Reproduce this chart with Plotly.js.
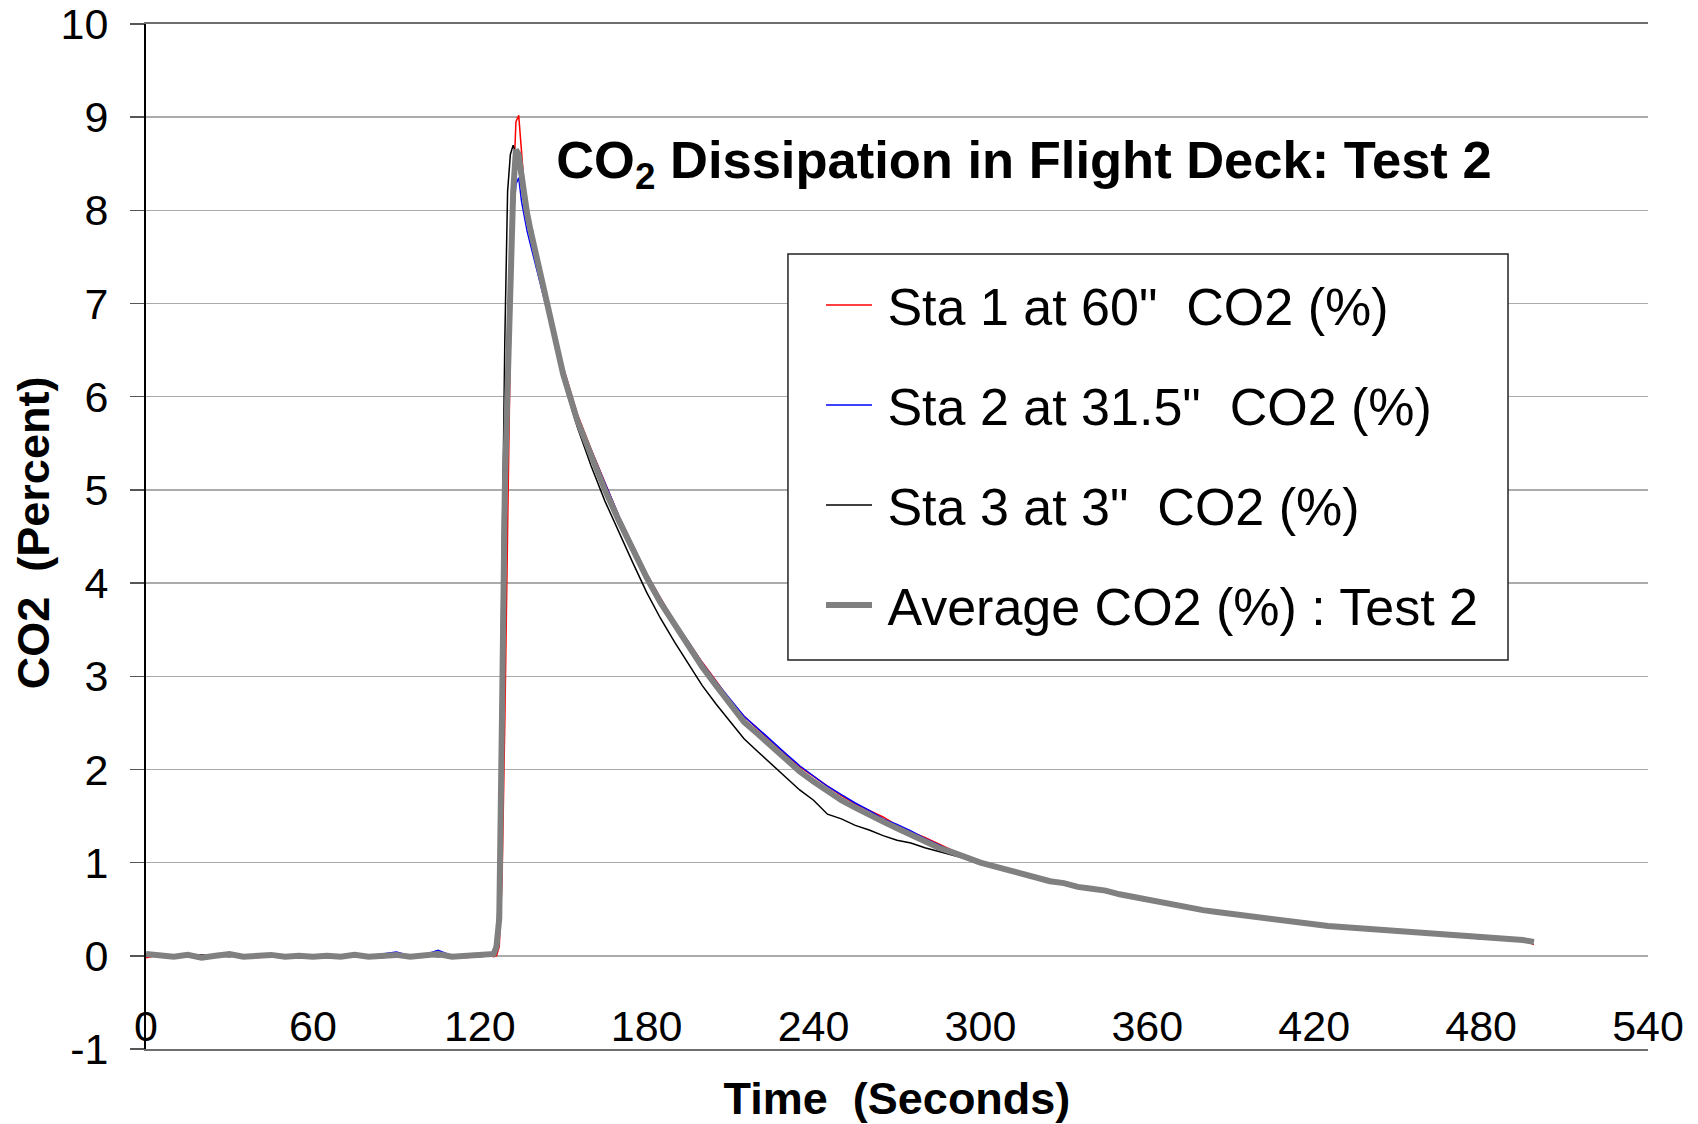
<!DOCTYPE html>
<html>
<head>
<meta charset="utf-8">
<script src="https://cdn.plot.ly/plotly-3.0.1.min.js"></script>
<style>html,body{margin:0;padding:0;background:#fff;}#chart{width:1698px;height:1124px;}</style>
</head>
<body>
<div id="chart"></div>
<script>
var timeSec = [0,5,10,15,20,25,30,35,40,45,50,55,60,65,70,75,80,85,90,95,100,105,110,115,120,
  123,125,126,127,128,129,130,131,132,133,134,135,136,137,138,140,142,144,146,148,150,
  155,160,165,170,175,180,185,190,195,200,205,210,215,220,225,230,235,240,245,250,255,260,265,270,275,280,285,290,295,300,
  305,310,315,320,325,330,335,340,345,350,355,360,365,370,375,380,385,390,395,400,405,410,415,420,425,430,435,440,445,450,455,460,465,470,475,480,485,490,495,499];

var sta1 = [-0.02,0.01,0.00,-0.01,0.01,-0.01,0.00,0.01,-0.02,0.00,0.01,-0.01,0.00,0.01,-0.01,0.00,0.01,-0.02,0.00,0.01,-0.01,0.00,0.01,-0.02,0.00,
  0.01,-0.01,0.0,0.1,0.8,2.5,4.6,6.6,8.2,8.95,9.02,8.6,8.25,8.05,7.9,7.62,7.36,7.08,6.82,6.55,6.32,
  5.82,5.44,5.07,4.72,4.41,4.10,3.84,3.59,3.37,3.15,2.95,2.74,2.57,2.43,2.29,2.16,2.03,1.92,1.82,1.72,1.63,1.56,1.49,1.40,1.33,1.27,1.20,1.13,1.06,1.01,
  0.95,0.93,0.87,0.86,0.80,0.78,0.75,0.71,0.69,0.67,0.62,0.60,0.57,0.55,0.53,0.48,0.47,0.46,0.42,0.41,0.39,0.38,0.37,0.33,0.33,0.30,0.31,0.27,0.28,0.25,0.25,0.23,0.24,0.21,0.21,0.19,0.19,0.17,0.17,0.12];

var sta2 = [0.01,-0.01,0.00,0.01,0.00,-0.01,0.01,0.00,-0.01,0.00,0.01,0.00,0.00,-0.01,0.01,0.00,0.00,0.02,0.04,0.00,0.01,0.06,0.00,-0.01,0.02,
  0.03,0.02,0.05,0.4,2.6,5.0,5.9,7.0,7.9,8.28,8.35,8.1,7.92,7.78,7.66,7.42,7.16,6.95,6.72,6.48,6.25,
  5.78,5.42,5.06,4.72,4.40,4.10,3.83,3.59,3.37,3.14,2.94,2.76,2.57,2.44,2.30,2.17,2.04,1.93,1.82,1.73,1.64,1.56,1.47,1.41,1.34,1.26,1.19,1.12,1.06,1.00,
  0.97,0.91,0.89,0.84,0.82,0.77,0.74,0.73,0.68,0.66,0.64,0.59,0.58,0.54,0.52,0.50,0.46,0.45,0.43,0.40,0.40,0.37,0.35,0.34,0.31,0.31,0.28,0.29,0.26,0.26,0.24,0.23,0.22,0.22,0.20,0.18,0.19,0.18,0.16,0.16];

var sta3 = [0.00,0.01,-0.01,0.00,0.01,0.00,-0.01,0.01,0.00,-0.01,0.00,0.01,-0.01,0.00,0.00,0.01,-0.01,0.00,-0.01,0.01,0.00,-0.01,0.00,0.01,-0.01,
  0.00,0.03,0.2,0.8,4.2,6.6,8.2,8.6,8.7,8.6,8.45,8.28,8.1,7.95,7.8,7.52,7.25,6.96,6.7,6.43,6.18,
  5.68,5.26,4.88,4.54,4.22,3.90,3.62,3.37,3.14,2.90,2.70,2.51,2.33,2.19,2.05,1.91,1.78,1.67,1.52,1.47,1.40,1.35,1.29,1.24,1.21,1.16,1.12,1.08,1.04,1.00,
  0.96,0.92,0.89,0.85,0.81,0.79,0.74,0.72,0.70,0.66,0.63,0.61,0.58,0.56,0.52,0.50,0.47,0.45,0.44,0.41,0.40,0.38,0.36,0.34,0.33,0.31,0.30,0.29,0.27,0.26,0.25,0.24,0.23,0.22,0.21,0.21,0.19,0.18,0.17,0.17];

var average = [0.02,0.00,-0.01,0.01,-0.02,0.00,0.02,-0.01,0.00,0.01,-0.01,0.00,-0.01,0.00,-0.01,0.01,-0.01,0.00,0.01,-0.01,0.01,0.02,-0.01,0.00,0.01,
  0.00,0.02,0.1,0.4,2.6,5.0,6.1,7.4,8.2,8.65,8.6,8.38,8.15,7.97,7.82,7.55,7.28,7.0,6.74,6.48,6.24,
  5.75,5.36,5.0,4.67,4.36,4.06,3.79,3.55,3.32,3.1,2.9,2.7,2.51,2.38,2.24,2.11,1.98,1.87,1.77,1.67,1.59,1.51,1.44,1.37,1.30,1.23,1.16,1.11,1.05,1.0,
  0.96,0.92,0.88,0.85,0.80,0.78,0.74,0.72,0.70,0.66,0.63,0.60,0.58,0.55,0.52,0.49,0.47,0.45,0.43,0.41,0.40,0.38,0.36,0.34,0.32,0.31,0.30,0.28,0.27,0.26,0.25,0.24,0.23,0.22,0.21,0.20,0.19,0.18,0.17,0.15];

var seriesNames = ['Sta 1 at 60"\u00A0\u00A0CO2 (%)', 'Sta 2 at 31.5"\u00A0\u00A0CO2 (%)', 'Sta 3 at 3"\u00A0\u00A0CO2 (%)', 'Average CO2 (%) : Test 2'];
var xTickVals = [0,60,120,180,240,300,360,420,480,540];
var yTickVals = [-1,0,1,2,3,4,5,6,7,8,9,10];

var FONT = 'Liberation Sans, Arial, Helvetica, sans-serif';
var PAD = '\u2009';

var traces = [
  {x: timeSec, y: sta1, name: PAD + seriesNames[0], mode: 'lines', line: {color: '#ff0000', width: 1.5}, legendgroup: 'a'},
  {x: timeSec, y: sta2, name: PAD + seriesNames[1], mode: 'lines', line: {color: '#0000ff', width: 1.5}, legendgroup: 'b'},
  {x: timeSec, y: sta3, name: PAD + seriesNames[2], mode: 'lines', line: {color: '#000000', width: 1.5}, legendgroup: 'c'},
  {x: timeSec, y: average, name: PAD + seriesNames[3], mode: 'lines', line: {color: '#808080', width: 6}, legendgroup: 'd'}
];

var layout = {
  width: 1698, height: 1124,
  margin: {l: 146, r: 50, t: 24, b: 75},
  paper_bgcolor: '#ffffff', plot_bgcolor: '#ffffff',
  font: {family: FONT, color: '#000000'},
  showlegend: true,
  title: {
    text: '<b>CO<sub>2</sub> Dissipation in Flight Deck: Test 2</b>',
    font: {family: FONT, size: 52.5, color: '#000000'},
    xref: 'container', yref: 'container', x: 0.6030, y: 0.8577, xanchor: 'center', yanchor: 'middle'
  },
  xaxis: {
    range: [0, 540], tickvals: xTickVals, ticktext: xTickVals.map(String),
    showgrid: false, zeroline: false, ticks: '',
    ticklabelposition: 'inside', ticklabeloverflow: 'allow', ticklabelstandoff: 5,
    tickfont: {family: FONT, size: 43, color: '#000000'},
    showline: true, linecolor: '#6e6e6e', linewidth: 2, mirror: true,
    title: {text: '<b>Time\u00A0\u00A0(Seconds)</b>', font: {family: FONT, size: 45, color: '#000000'}, standoff: 36},
    automargin: false
  },
  xaxis2: {
    overlaying: 'x', anchor: 'free', position: 1/11, side: 'bottom',
    range: [0, 540], tickvals: xTickVals, showticklabels: false,
    ticks: 'outside', ticklen: 16, tickwidth: 1.5, tickcolor: '#000000',
    showline: true, linecolor: '#000000', linewidth: 2, showgrid: false, zeroline: false
  },
  yaxis: {
    range: [-1, 10], tickvals: yTickVals, ticktext: yTickVals.map(String),
    showgrid: true, gridcolor: '#ababab', gridwidth: 1.5, zeroline: false,
    ticks: 'outside', ticklen: 14, tickwidth: 1.5, tickcolor: '#555555',
    ticklabelstandoff: 13,
    tickfont: {family: FONT, size: 43, color: '#000000'},
    showline: true, linecolor: '#000000', linewidth: 2,
    automargin: false
  },
  yaxis2: {
    overlaying: 'y', anchor: 'x', side: 'right', range: [-1, 10],
    showticklabels: false, ticks: '', showgrid: false, zeroline: false,
    showline: true, linecolor: '#6e6e6e', linewidth: 2
  },
  annotations: [{
    text: '<b>CO2\u00A0\u00A0(Percent)</b>', textangle: -90, showarrow: false,
    xref: 'paper', yref: 'paper', x: -0.0751, y: 0.5034, xanchor: 'center', yanchor: 'middle',
    font: {family: FONT, size: 45, color: '#000000'}
  }],
  legend: {
    x: 0.4494, y: 0.7651, xanchor: 'left', yanchor: 'top',
    bgcolor: 'rgba(0,0,0,0)', borderwidth: 0,
    font: {family: FONT, size: 52, color: '#000000'},
    itemwidth: 46, tracegroupgap: 29.4, traceorder: 'grouped'
  },
  shapes: [{
    type: 'rect', xref: 'paper', yref: 'paper', layer: 'above',
    x0: 0.4274, x1: 0.9068, y0: 0.3795, y1: 0.7756,
    fillcolor: '#ffffff', line: {color: '#222222', width: 1.5}
  }]
};

Plotly.newPlot('chart', traces, layout, {staticPlot: true, displayModeBar: false});
</script>
</body>
</html>
